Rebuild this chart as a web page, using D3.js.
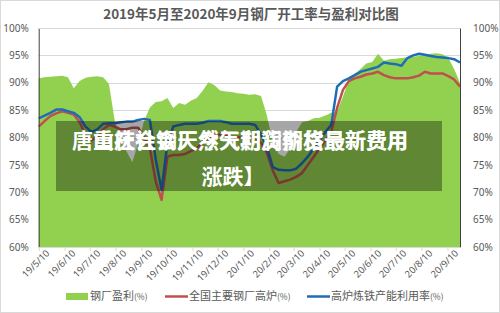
<!DOCTYPE html>
<html>
<head>
<meta charset="utf-8">
<script src="https://cdn.jsdelivr.net/npm/d3@7"></script>
<style>
body{margin:0;background:#fff;}
svg{display:block;font-family:"Noto Sans CJK SC","Noto Sans",sans-serif;}
</style>
</head>
<body>
<div id="chartDiv"></div>
<script>
// weekly dates (category axis)
var dates = ["2019-05-10","2019-05-17","2019-05-24","2019-05-31","2019-06-07","2019-06-14","2019-06-21","2019-06-28",
"2019-07-05","2019-07-12","2019-07-19","2019-07-26","2019-08-02","2019-08-09","2019-08-16","2019-08-23","2019-08-30",
"2019-09-06","2019-09-13","2019-09-20","2019-09-27","2019-10-04","2019-10-11","2019-10-18","2019-10-25","2019-11-01",
"2019-11-08","2019-11-15","2019-11-22","2019-11-29","2019-12-06","2019-12-13","2019-12-20","2019-12-27","2020-01-03",
"2020-01-10","2020-01-17","2020-01-24","2020-01-31","2020-02-07","2020-02-14","2020-02-21","2020-02-28","2020-03-06",
"2020-03-13","2020-03-20","2020-03-27","2020-04-03","2020-04-10","2020-04-17","2020-04-24","2020-05-01","2020-05-08",
"2020-05-15","2020-05-22","2020-05-29","2020-06-05","2020-06-12","2020-06-19","2020-06-26","2020-07-03","2020-07-10",
"2020-07-17","2020-07-24","2020-07-31","2020-08-07","2020-08-14","2020-08-21","2020-08-28","2020-09-04","2020-09-11",
"2020-09-18","2020-09-25"];

// 钢厂盈利(%)
var profit = [90.8,91.0,91.1,91.2,91.3,91.0,89.0,90.3,90.9,91.1,91.2,91.0,89.8,83,80,77.5,75.5,79,83,85.5,
86.5,86.6,87.2,85.4,86.3,86.0,86.7,87.2,88.5,90.1,89.6,88.6,88.4,88.3,88.1,88.0,87.8,87.9,87.6,84,
79,77,76.5,78,81,82.8,83,83.5,83.6,84,84.5,84.7,87.5,90.5,91.6,92.5,93.5,93.8,95.3,94.0,
94.3,94.4,94.5,94.6,94.8,94.9,95.1,95.3,95.4,95.2,94.5,92.5,90.0];

// 全国主要钢厂高炉(%)
var furnace = [82.0,83.0,83.9,84.4,84.8,84.5,84.2,82.8,80.5,79.5,80,81.5,82.3,82.0,81.5,81.5,81.8,81.8,80,78,
72,68.6,76.5,76.8,76.8,77,77.5,78,79,80,80.5,80.5,80.5,80,80,80,80,80,79,77.2,
74,71.7,72,72.3,72.8,73.5,75,76.5,78,79.5,81.1,85.4,88.7,90.3,90.8,91.1,91.5,91.7,92.0,91.4,
91.0,90.8,90.8,90.8,91.0,91.3,92.0,91.7,91.7,91.7,91.2,90.6,89.3];

// 高炉炼铁产能利用率(%)
var capacity = [83.5,84.0,84.5,85.1,85.1,84.8,84.5,83.7,82,81,81.5,82.5,82.6,82.6,82.8,82.9,82.9,83.2,83.4,83.2,
76,70.4,79,82,82.3,82.5,82.5,82.5,82.7,83,83,83,82.8,82.5,82.5,82.5,82.5,82.3,80.5,78.3,
74.6,74.1,74,74,74.3,75.3,76.5,78,79.5,81,82.3,89.3,90.3,90.8,91.4,92,92.3,92.6,92.9,93.7,
93.5,93.4,93.1,94.5,95.0,95.3,95.1,94.9,94.7,94.6,94.5,94.3,93.7];

var tickDates = ["2019-05-10","2019-06-10","2019-07-10","2019-08-10","2019-09-10","2019-10-10","2019-11-10","2019-12-10",
"2020-01-10","2020-02-10","2020-03-10","2020-04-10","2020-05-10","2020-06-10","2020-07-10","2020-08-10","2020-09-10"];
var yTicks = [60,65,70,75,80,85,90,95,100];

var titleText = "2019年5月至2020年9月钢厂开工率与盈利对比图";
var seriesNames = ["钢厂盈利", "全国主要钢厂高炉", "高炉炼铁产能利用率"];
var colors = ["#92d050", "#c0504d", "#1f6db5"];

var width = 500, height = 313;
var plotLeft = 38.7, plotRight = 460, plotTop = 28, plotBottom = 247;

var parse = d3.timeParse("%Y-%m-%d");
var fmt = d3.timeFormat("%y/%-m/%-d");

var svg = d3.select("#chartDiv").append("svg")
    .attr("width", width)
    .attr("height", height)

svg.append("rect")
    .attr("x", 0.5).attr("y", 0.5)
    .attr("width", width - 1).attr("height", height - 1)
    .style("fill", "#fff")
    .style("stroke", "#d9d9d9")

var x = d3.scaleTime()
    .domain([parse(dates[0]), parse(dates[dates.length - 1])])
    .range([plotLeft, plotRight]);

var y = d3.scaleLinear()
    .domain([60, 100])
    .range([plotBottom, plotTop]);

// gridlines
svg.append("g").selectAll("line")
    .data(yTicks)
    .enter().append("line")
    .attr("x1", plotLeft).attr("x2", plotRight)
    .attr("y1", function(d){ return Math.round(y(d)) + 0.5; })
    .attr("y2", function(d){ return Math.round(y(d)) + 0.5; })
    .style("stroke", "#d9d9d9")

// profit area
var area = d3.area()
    .x(function(d, i){ return x(parse(dates[i])); })
    .y0(y(60))
    .y1(function(d){ return y(d); });

svg.append("path")
    .datum(profit)
    .attr("d", area)
    .style("fill", colors[0])

var line = d3.line()
    .x(function(d, i){ return x(parse(dates[i])); })
    .y(function(d){ return y(d); });

svg.append("path")
    .datum(furnace)
    .attr("d", line)
    .style("fill", "none")
    .style("stroke", colors[1])
    .style("stroke-width", 2.5)
    .style("stroke-linejoin", "round")

svg.append("path")
    .datum(capacity)
    .attr("d", line)
    .style("fill", "none")
    .style("stroke", colors[2])
    .style("stroke-width", 2.5)
    .style("stroke-linejoin", "round")

// axes
var yLeft = d3.axisLeft(y).tickValues(yTicks).tickSize(0).tickPadding(10)
    .tickFormat(function(d){ return d + "%"; });
var yRight = d3.axisRight(y).tickValues(yTicks).tickSize(0).tickPadding(13)
    .tickFormat(function(d){ return d + "%"; });

var gl = svg.append("g").attr("transform", "translate(" + plotLeft + ",0)").call(yLeft);
var gr = svg.append("g").attr("transform", "translate(" + plotRight + ",0)").call(yRight);
[gl, gr].forEach(function(g){
    g.select(".domain").style("stroke", "#404040");
    g.selectAll("text").style("fill", "#595959").style("font-size", "10px")
        .style("font-family", "'Noto Sans',sans-serif");
});

var xAxis = d3.axisBottom(x)
    .tickValues(tickDates.map(parse))
    .tickSize(4)
    .tickSizeOuter(0)
    .tickFormat(fmt);

var gx = svg.append("g").attr("transform", "translate(0," + plotBottom + ")").call(xAxis);
gx.select(".domain").style("stroke", "#d9d9d9");
gx.selectAll("line").style("stroke", "#d9d9d9");
gx.selectAll("text")
    .style("fill", "#595959")
    .style("font-size", "9.5px")
    .style("font-family", "'Noto Sans',sans-serif")
    .style("text-anchor", "end")
    .attr("dx", "0.3em")
    .attr("dy", "0.7em")
    .attr("transform", "rotate(-45)")
    .attr("y", 6)

// top border
svg.append("line")
    .attr("x1", plotLeft).attr("x2", plotRight)
    .attr("y1", plotTop + 0.5).attr("y2", plotTop + 0.5)
    .style("stroke", "#d9d9d9")

// title
svg.append("text")
    .attr("x", 251).attr("y", 19)
    .attr("text-anchor", "middle")
    .style("font-size", "13.5px")
    .style("font-weight", "bold")
    .style("fill", "#595959")
    .text(titleText)

// legend
var legend = svg.append("g").attr("transform", "translate(0,296)");
var lx = [66, 165, 307];
legend.append("rect")
    .attr("x", lx[0]).attr("y", -3).attr("width", 22).attr("height", 7)
    .style("fill", colors[0])
for (var i = 1; i < 3; i++) {
    legend.append("line")
        .attr("x1", lx[i]).attr("x2", lx[i] + 23)
        .attr("y1", 0.5).attr("y2", 0.5)
        .style("stroke", colors[i])
        .style("stroke-width", 2.5)
}
for (var j = 0; j < 3; j++) {
    var t = legend.append("text")
        .attr("x", lx[j] + 24).attr("y", 4)
        .style("font-size", "11px")
        .style("fill", "#595959");
    t.append("tspan").text(seriesNames[j]);
    t.append("tspan").style("font-size", "8.5px").text("(%)");
}

// dark overlay banner on top of the chart
svg.append("rect")
    .attr("x", 56).attr("y", 121)
    .attr("width", 386).attr("height", 70)
    .style("fill", "#000")
    .style("fill-opacity", 0.35)

var bannerA = "唐山社会钢厂今天利润期货最新费用";
var bannerB = "重庆社会天然气期货价格最新费用";
[bannerA, bannerB].forEach(function(s){
    svg.append("text")
        .attr("x", 408).attr("y", 148)
        .attr("text-anchor", "end")
        .style("font-size", "21px")
        .style("font-weight", "bold")
        .style("fill", "#fff")
        .text(s)
});
svg.append("text")
    .attr("x", 233).attr("y", 184)
    .attr("text-anchor", "middle")
    .style("font-size", "21px")
    .style("font-weight", "bold")
    .style("fill", "#fff")
    .text("涨跌】")
</script>
</body>
</html>
